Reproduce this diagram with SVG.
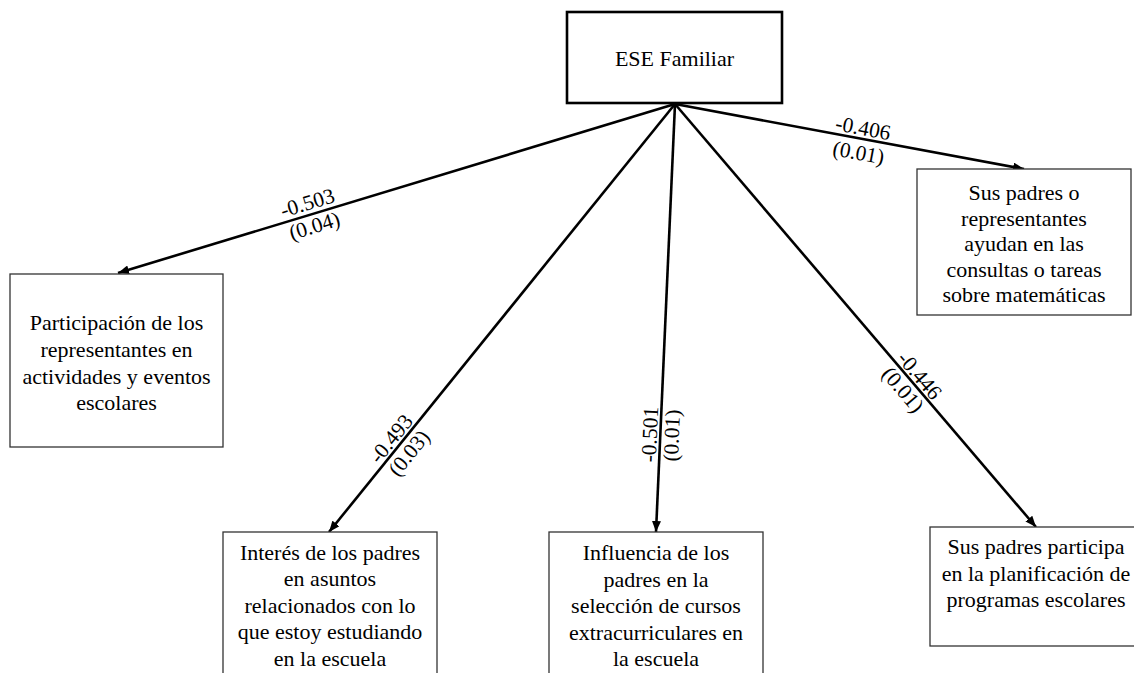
<svg xmlns="http://www.w3.org/2000/svg" width="1134" height="673" viewBox="0 0 1134 673">
<defs>
<marker id="arr" markerUnits="userSpaceOnUse" markerWidth="12" markerHeight="9" refX="11" refY="4.5" orient="auto">
<path d="M0,0 L11,4.5 L0,9 z" fill="#000"/>
</marker>
<style>
text{font-family:"Liberation Serif","Times New Roman",Times,serif;font-size:22px;fill:#000;text-anchor:middle}
.box{fill:#fff;stroke:#333;stroke-width:1.3}
.main{fill:#fff;stroke:#000;stroke-width:2.6}
.edge{stroke:#000;stroke-width:2.6;fill:none;marker-end:url(#arr)}
.lbl{font-size:21.5px}
</style>
</defs>
<rect width="1134" height="673" fill="#fff"/>
<g id="connectors">
<line class="edge" x1="675" y1="104" x2="118" y2="273"/>
<line class="edge" x1="675" y1="104" x2="329" y2="532"/>
<line class="edge" x1="675" y1="104" x2="656" y2="532"/>
<line class="edge" x1="675" y1="104" x2="1036" y2="527"/>
<line class="edge" x1="675" y1="104" x2="1024" y2="169"/>
<g transform="translate(311,214.5) rotate(-16.88)"><text class="lbl" x="0" y="-5">-0.503</text><text class="lbl" x="0" y="19">(0.04)</text></g>
<g transform="translate(399,445) rotate(-51.04)"><text class="lbl" x="0" y="-3">-0.493</text><text class="lbl" x="0" y="20">(0.03)</text></g>
<g transform="translate(660,435) rotate(-87.46)"><text class="lbl" x="0" y="-3">-0.501</text><text class="lbl" x="0" y="19">(0.01)</text></g>
<g transform="translate(912,382) rotate(49.52)"><text class="lbl" x="0" y="-3">-0.446</text><text class="lbl" x="0" y="19">(0.01)</text></g>
<g transform="translate(861,139) rotate(10.55)"><text class="lbl" x="0" y="-4">-0.406</text><text class="lbl" x="0" y="21">(0.01)</text></g>
</g>
<g id="ese">
<rect class="main" x="567" y="12" width="215" height="91"/>
<text x="674.5" y="66">ESE Familiar</text>
</g>
<g id="participacion">
<rect class="box" x="10" y="274" width="213" height="173"/>
<text x="116.5" y="330">Participación de los</text>
<text x="116.5" y="357">representantes en</text>
<text x="116.5" y="383.5">actividades y eventos</text>
<text x="116.5" y="410">escolares</text>
</g>
<g id="ayudan">
<rect class="box" x="917" y="169" width="214" height="146"/>
<text x="1024" y="200">Sus padres o</text>
<text x="1024" y="225.5">representantes</text>
<text x="1024" y="251">ayudan en las</text>
<text x="1024" y="276.5">consultas o tareas</text>
<text x="1024" y="302">sobre matemáticas</text>
</g>
<g id="interes">
<rect class="box" x="223" y="532" width="214" height="160"/>
<text x="330" y="559.5">Interés de los padres</text>
<text x="330" y="586">en asuntos</text>
<text x="330" y="612.5">relacionados con lo</text>
<text x="330" y="639">que estoy estudiando</text>
<text x="330" y="665.5">en la escuela</text>
</g>
<g id="influencia">
<rect class="box" x="549" y="532" width="214" height="160"/>
<text x="656" y="560">Influencia de los</text>
<text x="656" y="586.5">padres en la</text>
<text x="656" y="613">selección de cursos</text>
<text x="656" y="639.5">extracurriculares en</text>
<text x="656" y="666">la escuela</text>
</g>
<g id="planificacion">
<rect class="box" x="930" y="527" width="214" height="119"/>
<text x="1036" y="554">Sus padres participa</text>
<text x="1036" y="581">en la planificación de</text>
<text x="1036" y="607">programas escolares</text>
</g>
</svg>
